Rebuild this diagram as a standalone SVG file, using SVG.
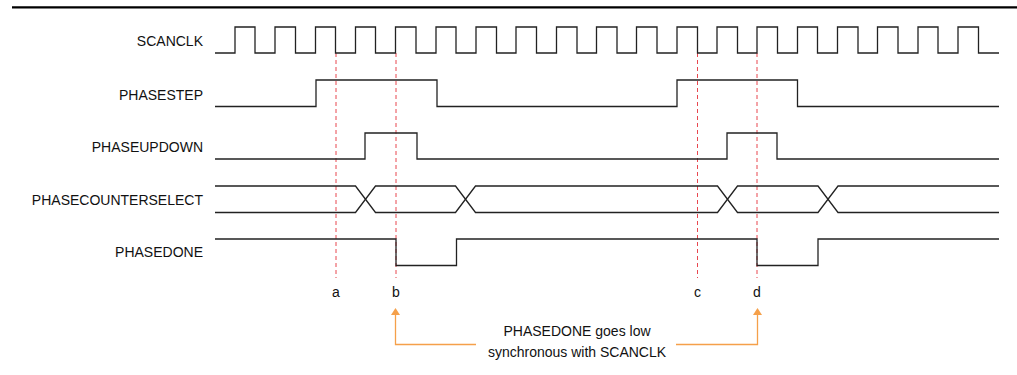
<svg xmlns="http://www.w3.org/2000/svg" width="1017" height="375" viewBox="0 0 1017 375">
<style>
text{font-family:"Liberation Sans",Arial,Helvetica,sans-serif;font-size:14px;fill:#111}
.lbl{text-anchor:end}
.mid{text-anchor:middle}
.sig{fill:none;stroke:#222;stroke-width:1.3;stroke-linejoin:miter}
.mark{stroke:#e8474f;stroke-width:1;stroke-dasharray:4 3;fill:none}
.ann{fill:none;stroke:#f5a04a;stroke-width:1.3}
.head{fill:#f5a04a}
</style>
<rect width="1017" height="375" fill="#fff"/>
<line x1="12" y1="7.3" x2="1017" y2="7.3" stroke="#000" stroke-width="2.2"/>

<g id="markers">
<line class="mark" x1="336" y1="53" x2="336" y2="278"/>
<line class="mark" x1="396" y1="53" x2="396" y2="278"/>
<line class="mark" x1="697.5" y1="53" x2="697.5" y2="278"/>
<line class="mark" x1="757" y1="53" x2="757" y2="278"/>
<text class="mid" x="336" y="297">a</text>
<text class="mid" x="396" y="297">b</text>
<text class="mid" x="697.5" y="297">c</text>
<text class="mid" x="757" y="297">d</text>
</g>

<g id="scanclk">
<text class="lbl" x="203" y="46">SCANCLK</text>
<path class="sig" d="M215,53 H235 V27 H255 V53 H275 V27 H295.5 V53 H315.5 V27 H335.5 V53 H355.5 V27 H375.5 V53 H395.5 V27 H416 V53 H436 V27 H456 V53 H476 V27 H496.5 V53 H516 V27 H536.5 V53 H556.5 V27 H577 V53 H596.5 V27 H617 V53 H636.5 V27 H657 V53 H677 V27 H697.5 V53 H717 V27 H737.5 V53 H757 V27 H777.5 V53 H797.5 V27 H817.5 V53 H837.5 V27 H858 V53 H877.5 V27 H898 V53 H918 V27 H938 V53 H958 V27 H978.5 V53 H999"/>
</g>

<g id="phasestep">
<text class="lbl" x="203" y="99.5">PHASESTEP</text>
<path class="sig" d="M215,106.5 H316 V80 H437 V106.5 H677 V80 H797.5 V106.5 H999"/>
</g>

<g id="phaseupdown">
<text class="lbl" x="203" y="152">PHASEUPDOWN</text>
<path class="sig" d="M215,159 H365 V133 H417 V159 H727 V133 H777 V159 H999"/>
</g>

<g id="phasecounterselect">
<text class="lbl" x="203" y="205">PHASECOUNTERSELECT</text>
<path class="sig" d="M215,186 H355.5 L375.5,212.5 H455.5 L475.5,186 H717.5 L737.5,212.5 H818 L838,186 H999"/>
<path class="sig" d="M215,212.5 H355.5 L375.5,186 H455.5 L475.5,212.5 H717.5 L737.5,186 H818 L838,212.5 H999"/>
</g>

<g id="phasedone">
<text class="lbl" x="203" y="257">PHASEDONE</text>
<path class="sig" d="M215,239 H396 V265.5 H456.5 V239 H757 V265.5 H818 V239 H999"/>
</g>

<g id="note">
<text class="mid" x="577" y="336">PHASEDONE goes low</text>
<text class="mid" x="577" y="356.5">synchronous with SCANCLK</text>
</g>

<g id="connectors">
<path class="ann" d="M476,344.5 H395.5 V314"/>
<polygon class="head" points="395.5,308 391,315 400,315"/>
<path class="ann" d="M676,344.5 H757.5 V314"/>
<polygon class="head" points="757.5,308 753,315 762,315"/>
</g>
</svg>
